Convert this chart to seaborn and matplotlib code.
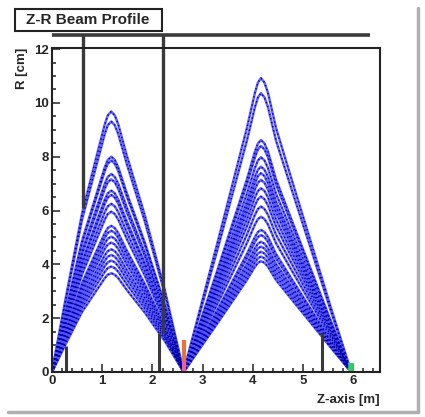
import numpy as np
import pandas as pd
import matplotlib
matplotlib.use('Agg')
import matplotlib.pyplot as plt
from matplotlib.lines import Line2D
from matplotlib.patches import Rectangle
from matplotlib.ticker import MultipleLocator
import seaborn as sns

sns.set_style('ticks')
plt.rcParams['font.family'] = ['Liberation Sans', 'DejaVu Sans']

# envelope shape of the two focusing sections
arch1_z = [0.0, 0.27, 0.60, 0.89, 1.05, 1.11, 1.18, 1.25, 1.32, 1.49, 1.85, 2.25, 2.62]
arch1_f = [0.0, 0.28, 0.61, 0.83, 0.95, 0.985, 1.0, 0.985, 0.95, 0.83, 0.60, 0.31, 0.0]
arch2_z = [2.62, 3.31, 3.58, 3.88, 4.04, 4.10, 4.16, 4.23, 4.30, 4.46, 4.78, 5.14, 5.55, 5.90]
arch2_f = [0.0, 0.45, 0.63, 0.83, 0.95, 0.985, 1.0, 0.985, 0.95, 0.83, 0.65, 0.45, 0.22, 0.03]

# peak radius of every trajectory [cm]
arch1_peak = [9.68, 9.31, 8.00, 7.86, 7.36, 7.16, 6.74, 6.58, 6.25, 5.96,
              5.43, 5.25, 5.03, 4.81, 4.56, 4.35, 4.14, 3.92, 3.67]
arch2_peak = [10.92, 10.36, 8.62, 8.40, 7.98, 7.63, 7.39, 7.14, 6.83, 6.52,
              6.15, 5.77, 5.28, 5.09, 4.84, 4.66, 4.47, 4.29, 4.12]

# apertures / elements drawn as dark bars
bar_z = [0.27, 2.14, 5.37]
bar_top = [0.95, 1.45, 1.45]
wall_z = [0.62, 2.21]
wall_bottom = [6.1, 1.45]
wall_top = 12.53

rows = []
for k, p in enumerate(arch1_peak):
    for z, f in zip(arch1_z, arch1_f):
        rows.append(('a1_%d' % k, z, p * f))
for k, p in enumerate(arch2_peak):
    for z, f in zip(arch2_z, arch2_f):
        rows.append(('a2_%d' % k, z, p * f))
df = pd.DataFrame(rows, columns=['track', 'z', 'r'])

fig = plt.figure(figsize=(4.25, 4.17), dpi=100)
ax = fig.add_axes([52 / 425, 1 - 372 / 417, 328 / 425, 324 / 417])

sns.lineplot(data=df, x='z', y='r', units='track', estimator=None, ax=ax,
             color='#5050ff', linewidth=1.8, alpha=0.9, legend=False)
sns.lineplot(data=df, x='z', y='r', units='track', estimator=None, ax=ax,
             color='#0000a0', linewidth=1.0, linestyle=(0, (1, 2)), legend=False)

# small coloured markers at the foci
ax.plot([2.62, 2.62], [0.4, 1.2], color='#e8743b', lw=3, solid_capstyle='butt')
ax.plot([2.62, 2.62], [0.0, 0.4], color='#f06090', lw=3, solid_capstyle='butt')
ax.plot([5.95, 5.95], [0.0, 0.35], color='#30d060', lw=4, solid_capstyle='butt')

for z, t in zip(bar_z, bar_top):
    ax.plot([z, z], [0, t], color='#3a3a3a', lw=2.2, solid_capstyle='butt')
for z, b in zip(wall_z, wall_bottom):
    ax.plot([z, z], [b, wall_top], color='#3a3a3a', lw=2.4,
            solid_capstyle='butt', clip_on=False)
ax.plot([0, 6.33], [wall_top, wall_top], color='#3a3a3a', lw=2.6,
        solid_capstyle='butt', clip_on=False)

ax.set_xlim(0, 6.53)
ax.set_ylim(0, 12.04)
ax.set_xticks(range(0, 7))
ax.set_yticks(range(0, 13, 2))
ax.xaxis.set_minor_locator(MultipleLocator(0.2))
ax.yaxis.set_minor_locator(MultipleLocator(0.5))
ax.tick_params(which='both', direction='in', width=1.1, color='#222222',
               labelsize=9.5, pad=2)
ax.tick_params(which='major', length=6)
ax.tick_params(which='minor', length=3)
for lab in ax.get_xticklabels() + ax.get_yticklabels():
    lab.set_fontweight('bold')
for s in ax.spines.values():
    s.set_linewidth(1.5)
    s.set_color('#222222')
ax.set_xlabel('')
ax.set_ylabel('')

fig.text(22 / 425, 1 - 48 / 417, 'R [cm]', rotation=90, ha='center', va='top',
         fontsize=9.5, fontweight='bold')
fig.text(380 / 425, 1 - 400 / 417, 'Z-axis [m]', ha='right', va='center',
         fontsize=9.5, fontweight='bold')

# title box
fig.patches.append(Rectangle((15 / 425, 1 - 31 / 417), 147 / 425, 22 / 417,
                             transform=fig.transFigure, facecolor='white',
                             edgecolor='#222222', lw=1.5))
fig.text(88 / 425, 1 - 20 / 417, 'Z-R Beam Profile', ha='center', va='center',
         fontsize=11, fontweight='bold')

# canvas bevel
fig.lines.append(Line2D([418 / 425, 418 / 425], [1 - 412 / 417, 1 - 8 / 417],
                        transform=fig.transFigure, color='#b0b0b0', lw=2.5))
fig.lines.append(Line2D([8 / 425, 418 / 425], [1 - 412 / 417, 1 - 412 / 417],
                        transform=fig.transFigure, color='#b0b0b0', lw=2.5))

fig.savefig('out.png', dpi=100)
